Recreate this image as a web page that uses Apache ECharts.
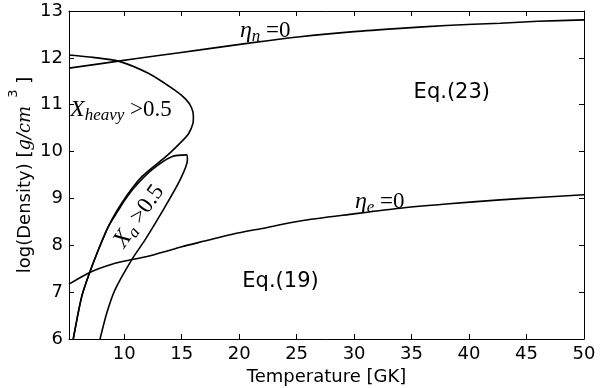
<!DOCTYPE html>
<html>
<head>
<meta charset="utf-8">
<script src="https://cdn.jsdelivr.net/npm/echarts@6/dist/echarts.min.js"></script>
<style>
  html, body { margin: 0; padding: 0; background: #fff; }
  #main { width: 600px; height: 388px; }
</style>
</head>
<body>
<div id="main"></div>
<script>
// tick positions
var xTicks = [10, 15, 20, 25, 30, 35, 40, 45, 50];

// eta_n = 0
var etaNT   = [5.2, 9.5, 13, 16.6, 21, 25.3, 30, 34, 38, 42.7, 46, 50];
var etaNRho = [11.78, 11.93, 12.05, 12.17, 12.32, 12.45, 12.56, 12.63, 12.69, 12.74, 12.78, 12.81];

// eta_e = 0
var etaET   = [5.2, 7.0, 9.0, 10.6, 12.0, 13.5, 15.0, 17.0, 19.5, 22, 25.3, 30, 34, 38, 42.7, 46, 50];
var etaERho = [7.17, 7.42, 7.60, 7.69, 7.76, 7.86, 7.97, 8.09, 8.24, 8.36, 8.52, 8.67, 8.79, 8.88, 8.97, 9.02, 9.08];

// X_heavy > 0.5 boundary
var heavyT   = [5.2, 7.3, 9.49, 12.1, 14.4, 15.35, 15.85, 16.02, 15.98, 15.6, 15.14, 13.8, 11.52, 9.78, 8.62, 7.75, 7.03, 6.30, 5.57];
var heavyRho = [12.06, 12.01, 11.93, 11.67, 11.31, 11.12, 10.94, 10.76, 10.6, 10.38, 10.25, 9.93, 9.46, 8.90, 8.40, 7.90, 7.44, 6.90, 6.0];

// X_a > 0.5 boundary
var alphaT   = [7.9, 8.48, 9.2, 10.65, 11.8, 13.55, 14.85, 15.5, 15.43, 14.13, 12.4, 10.94, 10.07, 9.5, 8.62, 7.75, 7.03, 6.30, 5.57];
var alphaRho = [6.0, 6.55, 7.05, 7.69, 8.11, 8.82, 9.39, 9.82, 9.93, 9.89, 9.61, 9.25, 8.97, 8.75, 8.40, 7.90, 7.44, 6.90, 6.0];

function pairs(xs, ys) {
  return xs.map(function (x, i) { return [x, ys[i]]; });
}

var myChart = echarts.init(document.getElementById('main'));

var tickStyle = { inside: true, length: 5, lineStyle: { color: '#000', width: 1 } };
var lineCfg = { color: '#000', width: 1.6 };

function curve(name, data) {
  return {
    name: name,
    type: 'line',
    data: data,
    xAxisIndex: 0,
    yAxisIndex: 0,
    smooth: 0.25,
    symbol: 'none',
    lineStyle: lineCfg,
    animation: false
  };
}

var options = {
  animation: false,
  grid: { left: 69, right: 16, top: 11, bottom: 49, containLabel: false, outerBoundsMode: 'none' },
  xAxis: [{
    type: 'value',
    min: 5.2,
    max: 50,
    name: 'Temperature [GK]',
    nameLocation: 'middle',
    nameGap: 29,
    nameTextStyle: { fontFamily: 'DejaVu Sans', fontSize: 18, color: '#000' },
    axisLine: { lineStyle: { color: '#000', width: 1 } },
    axisTick: Object.assign({ customValues: xTicks }, tickStyle),
    axisLabel: { customValues: xTicks, fontFamily: 'DejaVu Sans', fontSize: 18, color: '#000', margin: 6 },
    splitLine: { show: false }
  }, {
    type: 'value',
    position: 'top',
    min: 5.2,
    max: 50,
    axisLine: { lineStyle: { color: '#000', width: 1 } },
    axisTick: Object.assign({ customValues: xTicks }, tickStyle),
    axisLabel: { show: false },
    splitLine: { show: false }
  }],
  yAxis: [{
    type: 'value',
    min: 6,
    max: 13,
    interval: 1,
    name: '{n|log(Density) [}{i|g/cm}{s|3}{n| ]}',
    nameLocation: 'middle',
    nameGap: 25,
    nameMoveOverlap: false,
    nameTextStyle: {
      fontFamily: 'DejaVu Sans', fontSize: 18, color: '#000',
      rich: {
        n: { fontFamily: 'DejaVu Sans', fontSize: 18, color: '#000' },
        i: { fontFamily: 'DejaVu Serif', fontStyle: 'italic', fontSize: 18, color: '#000' },
        s: { fontFamily: 'DejaVu Sans', fontSize: 13, color: '#000', padding: [0, 0, 24, 8] }
      }
    },
    axisLine: { lineStyle: { color: '#000', width: 1 } },
    axisTick: tickStyle,
    axisLabel: { fontFamily: 'DejaVu Sans', fontSize: 18, color: '#000', margin: 6 },
    splitLine: { show: false }
  }, {
    type: 'value',
    position: 'right',
    min: 6,
    max: 13,
    interval: 1,
    axisLine: { lineStyle: { color: '#000', width: 1 } },
    axisTick: tickStyle,
    axisLabel: { show: false },
    splitLine: { show: false }
  }],
  series: [
    curve('eta_n', pairs(etaNT, etaNRho)),
    curve('eta_e', pairs(etaET, etaERho)),
    curve('X_heavy', pairs(heavyT, heavyRho)),
    curve('X_a', pairs(alphaT, alphaRho))
  ]
};
myChart.setOption(options);

// annotations, placed in data coordinates
var richMath = {
  i: { fontFamily: 'Liberation Serif', fontStyle: 'italic', fontSize: 24, color: '#000' },
  s: { fontFamily: 'Liberation Serif', fontStyle: 'italic', fontSize: 17, color: '#000', padding: [11, 0, 0, 0] },
  r: { fontFamily: 'Liberation Serif', fontSize: 23, color: '#000' }
};

function px(pt) { return myChart.convertToPixel({ gridIndex: 0 }, pt); }

function mathLabel(pt, text, align, rot) {
  var p = px(pt);
  return {
    type: 'text',
    x: p[0],
    y: p[1],
    rotation: rot || 0,
    style: {
      text: text,
      rich: richMath,
      align: align,
      verticalAlign: 'middle',
      fill: '#000'
    }
  };
}

function plainLabel(pt, text) {
  var p = px(pt);
  return {
    type: 'text',
    x: p[0],
    y: p[1],
    style: {
      text: text,
      fontFamily: 'DejaVu Sans',
      fontSize: 21,
      fill: '#000',
      align: 'center',
      verticalAlign: 'middle'
    }
  };
}

myChart.setOption({
  graphic: [
    mathLabel([20.07, 12.57], '{i|η}{s|n}{r| =0}', 'left'),
    mathLabel([30.07, 8.92], '{i|η}{s|e}{r| =0}', 'left'),
    mathLabel([5.29, 10.89], '{i|X}{s|heavy}{r| >0.5}', 'left'),
    mathLabel([11.3, 8.62], '{i|X}{s|a}{r| >0.5}', 'center', 55 * Math.PI / 180),
    plainLabel([38.5, 11.25], 'Eq.(23)'),
    plainLabel([23.6, 7.22], 'Eq.(19)')
  ]
});
</script>
</body>
</html>
